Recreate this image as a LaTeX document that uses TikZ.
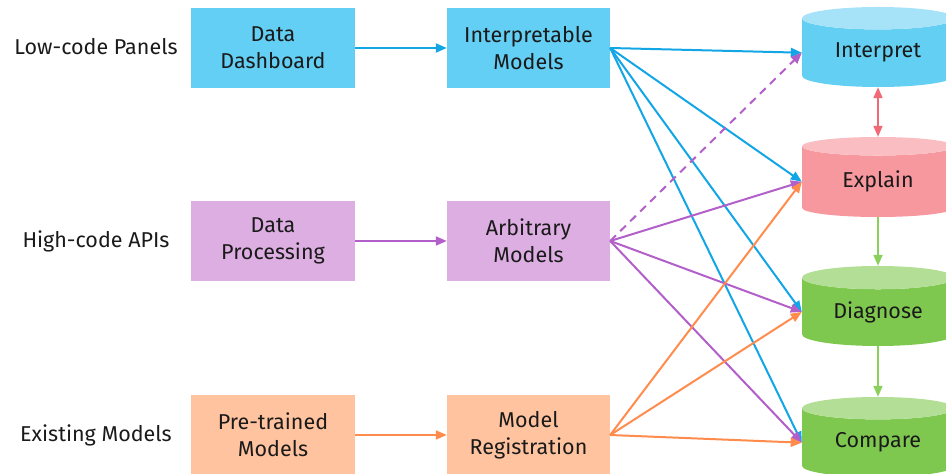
\documentclass[tikz,border=0pt]{standalone}
\usepackage{fontspec}
\setmainfont{Fira Sans}
\usetikzlibrary{shapes.geometric,arrows.meta}

\definecolor{boxblue}{HTML}{63CFF4}
\definecolor{boxpurple}{HTML}{DDAEE2}
\definecolor{boxorange}{HTML}{FFC39F}
\definecolor{cylblue}{HTML}{62CFF3}
\definecolor{cylbluetop}{HTML}{A6E3F8}
\definecolor{cylred}{HTML}{F7979E}
\definecolor{cylredtop}{HTML}{F9BDC2}
\definecolor{cylgreen}{HTML}{7FC84F}
\definecolor{cylgreentop}{HTML}{B3DE95}
\definecolor{lineblue}{HTML}{12A6E6}
\definecolor{linepurple}{HTML}{B35FC9}
\definecolor{lineorange}{HTML}{FF8C4D}
\definecolor{linered}{HTML}{F06A75}
\definecolor{linegreen}{HTML}{8BCF5C}
\definecolor{inktext}{HTML}{1A1A1A}

\begin{document}
\begin{tikzpicture}[x=1pt, y=1pt]
        \tikzstyle{every node}=[font=\fontsize{21.5}{27}\selectfont, text=inktext, align=center]
        \tikzstyle{box}=[rectangle, minimum width=164pt, minimum height=80pt, inner sep=0pt]
        \tikzstyle{cyl}=[cylinder, shape border rotate=90, aspect=0.26, minimum width=152pt, minimum height=80pt, inner sep=0pt, cylinder uses custom fill]
        \tikzstyle{link}=[line width=2pt, -{Triangle[length=11pt, width=9pt]}]

        \useasboundingbox (0,0) rectangle (946,474);

        % row labels
        \node (lowcode) at (96,427) {Low-code Panels};
        \node (highcode) at (96,233) {High-code APIs};
        \node (existing) at (96,39) {Existing Models};

        % first column
        \node[box, fill=boxblue] (dashboard) at (273,426) {Data\\Dashboard};
        \node[box, fill=boxpurple] (processing) at (273,233) {Data\\Processing};
        \node[box, fill=boxorange] (pretrained) at (273,39) {Pre-trained\\Models};

        % second column
        \node[box, minimum width=163pt, fill=boxblue] (interpretable) at (528.5,426) {Interpretable\\Models};
        \node[box, minimum width=163pt, fill=boxpurple] (arbitrary) at (528.5,233) {Arbitrary\\Models};
        \node[box, minimum width=163pt, fill=boxorange] (registration) at (528.5,39) {Model\\Registration};

        % cylinders
        \node[cyl, cylinder body fill=cylblue, cylinder end fill=cylbluetop, anchor=shape center] (interpret) at (878,427) {Interpret};
        \node[cyl, cylinder body fill=cylred, cylinder end fill=cylredtop, anchor=shape center] (explain) at (878,297) {Explain};
        \node[cyl, cylinder body fill=cylgreen, cylinder end fill=cylgreentop, anchor=shape center] (diagnose) at (878,168) {Diagnose};
        \node[cyl, cylinder body fill=cylgreen, cylinder end fill=cylgreentop, anchor=shape center] (compare) at (878,37) {Compare};

        % arrows
        \draw[link, lineblue] (dashboard) -- (interpretable);
        \draw[link, linepurple] (processing) -- (arbitrary);
        \draw[link, lineorange] (pretrained) -- (registration);

        \foreach \t in {interpret, explain, diagnose, compare}
            \draw[link, lineblue] (interpretable.east) -- (\t.west);
        \draw[link, linepurple, dash pattern=on 8pt off 6pt] (arbitrary.east) -- (interpret.west);
        \foreach \t in {explain, diagnose, compare}
            \draw[link, linepurple] (arbitrary.east) -- (\t.west);
        \foreach \t in {explain, diagnose, compare}
            \draw[link, lineorange] (registration.east) -- (\t.west);

        \draw[link, linered, {Triangle[length=11pt, width=9pt]}-{Triangle[length=11pt, width=9pt]}] (interpret.south) -- (explain.north);
        \draw[link, linegreen] (explain.south) -- (diagnose.north);
        \draw[link, linegreen] (diagnose.south) -- (compare.north);
    \end{tikzpicture}
\end{document}
